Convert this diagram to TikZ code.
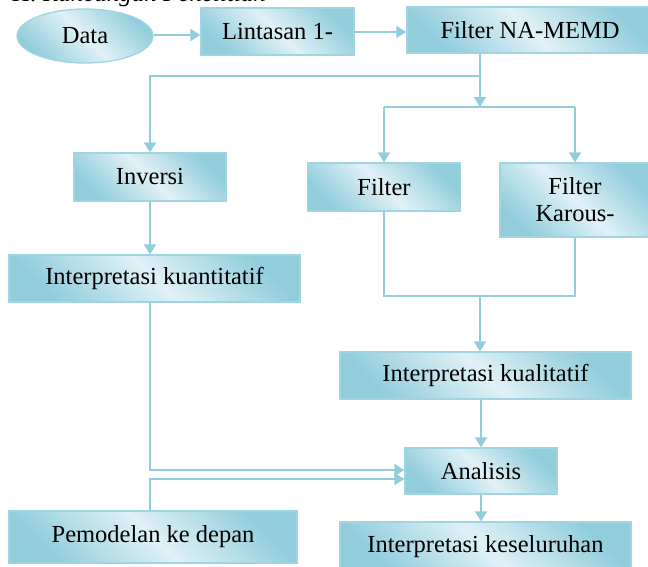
\documentclass[tikz,border=0pt]{standalone}
\usepackage{fontspec}
\setmainfont{Liberation Serif}
\usetikzlibrary{arrows.meta,shapes.geometric}
\definecolor{garis}{RGB}{146,205,220}
\definecolor{tepi}{RGB}{160,212,226}
\definecolor{muda}{RGB}{224,241,246}
\definecolor{tua}{RGB}{146,205,220}
\tikzset{
  kotak/.style={rectangle,draw=tepi,line width=1.3pt,inner sep=0pt,
    top color=tua,bottom color=tua,middle color=muda,shading angle=-45,
    align=center,font=\fontsize{24.5}{27}\selectfont},
  elips/.style={kotak,ellipse},
  panah/.style={draw=garis,line width=2pt,-{Triangle[length=10pt,width=12pt]}},
  garisan/.style={draw=garis,line width=2pt}
}
\begin{document}
\begin{tikzpicture}[x=1pt,y=-1pt]
    \useasboundingbox (0,0) rectangle (648,566);
    \clip (0,0) rectangle (648,566);
    \node[font=\itshape\fontsize{25}{28}\selectfont,anchor=base west] (judul) at (9,1) {H. Rancangan Penelitian};

    % baris atas
    \node[elips,minimum width=136pt,minimum height=54pt] (data) at (85,36) {Data};
    \node[kotak,minimum width=153pt,minimum height=47pt] (lint) at (277.5,31.5) {Lintasan 1-};
    \node[kotak,minimum width=246pt,minimum height=46pt] (nam) at (530,30) {Filter NA-MEMD};

    % cabang kiri dan kanan
    \node[kotak,minimum width=152pt,minimum height=48pt] (inv) at (150,177) {Inversi};
    \node[kotak,minimum width=153pt,minimum height=48pt] (filt) at (384,187) {Filter};
    \node[kotak,minimum width=150pt,minimum height=74pt] (kar) at (575,200) {Filter\\Karous-};
    \node[kotak,minimum width=291pt,minimum height=47pt] (kuan) at (154.5,278.5) {Interpretasi kuantitatif};
    \node[kotak,minimum width=291pt,minimum height=47pt] (kual) at (485.5,375.5) {Interpretasi kualitatif};

    % bagian bawah
    \node[kotak,minimum width=152pt,minimum height=46pt] (ana) at (481,471) {Analisis};
    \node[kotak,minimum width=288pt,minimum height=52pt] (pem) at (153,537) {Pemodelan ke depan};
    \node[kotak,minimum width=291pt,minimum height=50pt] (kes) at (485.5,547) {Interpretasi keseluruhan};

    \coordinate (j1) at (480,76);
    \coordinate (b1) at (480,107);
    \coordinate (b2) at (480,296);

    \draw[panah] (data.east |- 0,35) -- (lint.west |- 0,35);
    \draw[panah] (lint.east |- 0,32) -- (nam.west |- 0,32);
    \draw[panah] (nam.south -| b1) -- (b1);
    \draw[panah] (j1) -| (inv.north);
    \draw[garisan] (filt.north |- b1) -- (kar.north |- b1);
    \draw[panah] (filt.north |- b1) -- (filt.north);
    \draw[panah] (kar.north |- b1) -- (kar.north);
    \draw[panah] (inv.south) -- (kuan.north -| inv.south);
    \draw[garisan] (filt.south) |- (b2) -| (kar.south);
    \draw[panah] (b2) -- (kual.north -| b2);
    \draw[panah] (kual.south -| ana.south) -- (ana.north);
    \draw[panah] (kuan.south -| inv.south) |- ([yshift=1pt]ana.west);
    \draw[panah] (pem.north -| inv.south) |- ([yshift=-8pt]ana.west);
    \draw[panah] (ana.south) -- (kes.north -| ana.south);
\end{tikzpicture}
\end{document}
